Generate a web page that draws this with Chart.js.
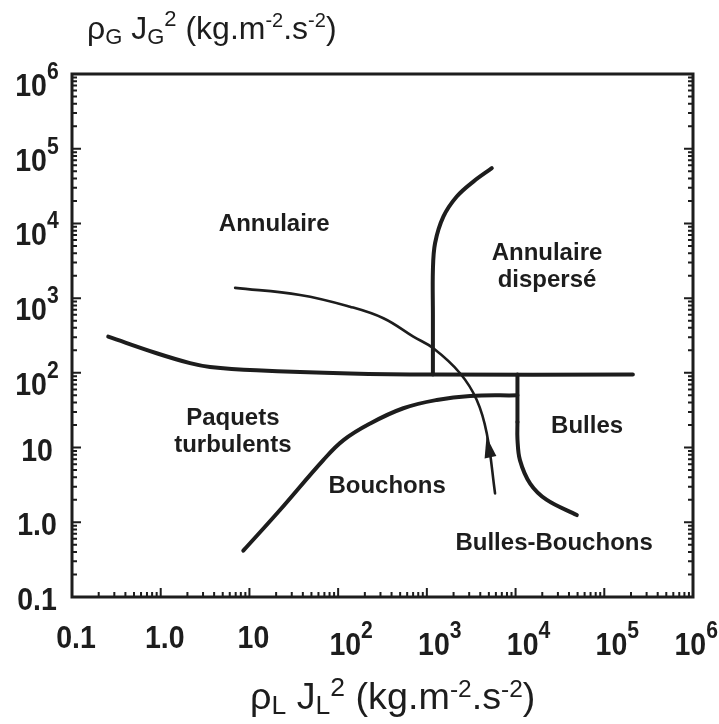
<!DOCTYPE html>
<html>
<head>
<meta charset="utf-8">
<script src="https://cdn.jsdelivr.net/npm/chart.js@4.4.1/dist/chart.umd.min.js"></script>
<style>
  html, body { margin: 0; padding: 0; background: #fff; }
  #wrap { position: relative; width: 719px; height: 724px; }
</style>
</head>
<body>
<div id="wrap"><canvas id="chart-map" width="719" height="724"></canvas></div>
<script>
// Flow pattern map (vertical upflow), both axes in kg.m-2.s-2, log-log

const AXIS_MIN = 0.1;
const AXIS_MAX = 1e6;
const DECADES = [0.1, 1, 10, 100, 1e3, 1e4, 1e5, 1e6];
// [base, exponent]
const TICK_LABELS = [['0.1'], ['1.0'], ['10'], ['10', '2'], ['10', '3'], ['10', '4'], ['10', '5'], ['10', '6']];

// boundaries: [rhoL.JL^2, rhoG.JG^2]
const paquetsAnnulaire = [[0.256, 305], [0.9, 183], [2.14, 135], [3.6, 120], [12, 108], [136, 98], [1170, 95], [2.1e5, 95]];
const annulaireDisperse = [[1170, 95], [1170, 600], [1170, 2380], [1237, 5430], [1535, 12300], [2173, 22900], [3343, 36300], [5395, 54800]];
const bouchonsTop = [[8.53, 0.417], [22.1, 1.46], [68, 6.8], [115, 12.6], [229, 21], [543, 33.6], [1294, 43.4], [3069, 49.1], [1.05e4, 50]];
const bullesStem = [[1.05e4, 95], [1.05e4, 22]];
const bullesCurve = [[1.05e4, 22], [1.05e4, 13], [1.12e4, 6.8], [1.46e4, 3.3], [2.25e4, 1.99], [4.9e4, 1.25]];
const transition = [[6.9, 1371], [37.2, 1104], [136, 769], [324, 538], [704, 305], [1183, 213], [2366, 98.8], [3652, 43.4], [4733, 15.5], [5870, 2.44]];
const ARROW_TIP = [4700, 14];
const ARROW_TAIL = [5400, 6];

// region names, anchored at the centre of each text block
const REGION_LABELS = [
  { lines: ['Annulaire'], at: [19, 9840] },
  { lines: ['Annulaire', 'dispersé'], at: [2.26e4, 2700] },
  { lines: ['Paquets', 'turbulents'], at: [6.5, 16.7] },
  { lines: ['Bulles'], at: [6.4e4, 19.5] },
  { lines: ['Bouchons'], at: [356, 3.06] },
  { lines: ['Bulles-Bouchons'], at: [2.72e4, 0.53] },
];

const INK = '#1d1d1d';
const FONT = '"Liberation Sans", Arial, Helvetica, sans-serif';

const toXY = pts => pts.map(([x, y]) => ({ x, y }));

function boundary(pts, width, tension) {
  return {
    data: toXY(pts),
    showLine: true,
    borderColor: INK,
    borderWidth: width,
    tension: tension,
    pointRadius: 0,
    borderCapStyle: 'round',
    borderJoinStyle: 'round',
  };
}

// runs of [text, size, rise] on one baseline, squeezed horizontally by sx
function richWidth(ctx, parts, weight) {
  let w = 0;
  for (const [t, size] of parts) {
    ctx.font = `${weight} ${size}px ${FONT}`;
    w += ctx.measureText(t).width;
  }
  return w;
}

function drawRich(ctx, x, y, parts, weight, sx) {
  ctx.save();
  ctx.translate(x, y);
  ctx.scale(sx, 1);
  let cx = 0;
  for (const [t, size, rise] of parts) {
    ctx.font = `${weight} ${size}px ${FONT}`;
    ctx.fillText(t, cx, -rise);
    cx += ctx.measureText(t).width;
  }
  ctx.restore();
}

function tickParts(lbl) {
  const parts = [[lbl[0], 31, 0]];
  if (lbl[1]) parts.push([lbl[1], 23, 17]);
  return parts;
}

function titleParts(sub, big) {
  const s = Math.round(big * 0.7), e = Math.round(big * 0.64);
  return [['ρ', big, 0], [sub, s, -5], [' J', big, 0], [sub, s, -5], ['2', s, 13],
          [' (kg.m', big, 0], ['-2', e, 12], ['.s', big, 0], ['-2', e, 12], [')', big, 0]];
}

const mapDecor = {
  id: 'mapDecor',
  afterDatasetsDraw(chart) {
    const { ctx, chartArea: a, scales: { x, y } } = chart;
    ctx.save();
    ctx.strokeStyle = INK;
    ctx.fillStyle = INK;

    // frame
    ctx.lineWidth = 3;
    ctx.strokeRect(a.left, a.top, a.right - a.left, a.bottom - a.top);

    // inward ticks: bottom, left, right
    ctx.lineWidth = 2;
    ctx.beginPath();
    for (const d of DECADES) {
      for (let m = 1; m <= 9; m++) {
        const v = d * m;
        if (v > AXIS_MAX * 1.0001) break;
        const len = m === 1 ? 9 : 5;
        const px = x.getPixelForValue(v);
        const py = y.getPixelForValue(v);
        ctx.moveTo(px, a.bottom); ctx.lineTo(px, a.bottom - len);
        ctx.moveTo(a.left, py); ctx.lineTo(a.left + len, py);
        ctx.moveTo(a.right, py); ctx.lineTo(a.right - len, py);
      }
    }
    ctx.stroke();

    // arrow head on the transition path
    const tx = x.getPixelForValue(ARROW_TIP[0]), ty = y.getPixelForValue(ARROW_TIP[1]);
    const bx = x.getPixelForValue(ARROW_TAIL[0]), by = y.getPixelForValue(ARROW_TAIL[1]);
    const ang = Math.atan2(ty - by, tx - bx);
    const L = 21, W = 6;
    ctx.beginPath();
    ctx.moveTo(tx, ty);
    ctx.lineTo(tx - L * Math.cos(ang) + W * Math.sin(ang), ty - L * Math.sin(ang) - W * Math.cos(ang));
    ctx.lineTo(tx - L * Math.cos(ang) - W * Math.sin(ang), ty - L * Math.sin(ang) + W * Math.cos(ang));
    ctx.closePath();
    ctx.fill();

    // tick labels
    const SX = 0.92;
    ctx.textBaseline = 'alphabetic';
    DECADES.forEach((v, i) => {
      const parts = tickParts(TICK_LABELS[i]);
      const w = richWidth(ctx, parts, 'bold') * SX;
      const exp = parts.length > 1;
      // x axis
      const cx = x.getPixelForValue(v) + (exp ? 13 : 4);
      const left = Math.min(cx - w / 2, 718 - w);
      drawRich(ctx, left, exp ? 655 : 648, parts, 'bold', SX);
      // y axis
      const py = y.getPixelForValue(v);
      drawRich(ctx, 37 - w / 2, py + (exp ? 22 : 13), parts, 'bold', SX);
    });

    // region names
    ctx.textAlign = 'center';
    ctx.font = `bold 24px ${FONT}`;
    for (const r of REGION_LABELS) {
      const px = x.getPixelForValue(r.at[0]);
      const py = y.getPixelForValue(r.at[1]);
      const lh = 27;
      const top = py - (r.lines.length * lh) / 2;
      r.lines.forEach((t, k) => ctx.fillText(t, px, top + k * lh + 21));
    }
    ctx.textAlign = 'left';

    // axis titles
    drawRich(ctx, 87, 39, titleParts('G', 32), 'normal', 1);
    drawRich(ctx, 250, 709, titleParts('L', 37), 'normal', 1.02);

    ctx.restore();
  }
};

new Chart(document.getElementById('chart-map'), {
  type: 'scatter',
  data: {
    datasets: [
      boundary(paquetsAnnulaire, 4, 0.4),
      boundary(annulaireDisperse, 4, 0.35),
      boundary(bouchonsTop, 4, 0.4),
      boundary(bullesStem, 4, 0),
      boundary(bullesCurve, 4, 0.35),
      boundary(transition, 2.6, 0.4),
    ]
  },
  options: {
    responsive: false,
    animation: false,
    layout: { padding: { top: 74, right: 26, left: 0, bottom: 0 } },
    plugins: { legend: { display: false }, tooltip: { enabled: false } },
    scales: {
      x: {
        type: 'logarithmic', min: AXIS_MIN, max: AXIS_MAX,
        grid: { display: false }, border: { display: false }, ticks: { display: false },
        afterFit: s => { s.height = 724 - 597; },
      },
      y: {
        type: 'logarithmic', min: AXIS_MIN, max: AXIS_MAX,
        grid: { display: false }, border: { display: false }, ticks: { display: false },
        afterFit: s => { s.width = 72; },
      },
    },
  },
  plugins: [mapDecor],
});
</script>
</body>
</html>
